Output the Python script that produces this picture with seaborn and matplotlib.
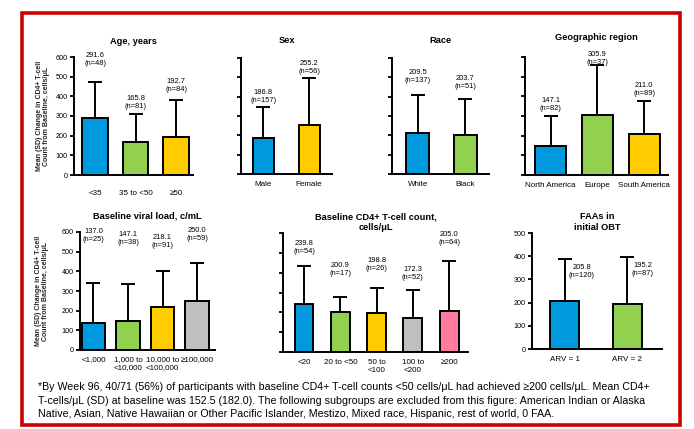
import matplotlib
matplotlib.use("Agg")
import matplotlib.pyplot as plt
from matplotlib.patches import Rectangle
import numpy as np
import pandas as pd
import seaborn as sns

# ---- data: mean (SD) change in CD4+ T-cell count from baseline, cells/μL ----
age_groups = ["<35", "35 to <50", "≥50"]
age_mean = [291.6, 165.8, 192.7]
age_sd = [181, 144, 188]
age_n = [48, 81, 84]

sex_groups = ["Male", "Female"]
sex_mean = [186.8, 255.2]
sex_sd = [160, 242]
sex_n = [157, 56]

race_groups = ["White", "Black"]
race_mean = [209.5, 203.7]
race_sd = [199, 184]
race_n = [137, 51]

region_groups = ["North America", "Europe", "South America"]
region_mean = [147.1, 305.9, 211.0]
region_sd = [153, 253, 165]
region_n = [82, 37, 89]

vl_groups = ["<1,000", "1,000 to\n<10,000", "10,000 to\n<100,000", "≥100,000"]
vl_mean = [137.0, 147.1, 218.1, 250.0]
vl_sd = [204, 189, 184, 192]
vl_n = [25, 38, 91, 59]

cd4_groups = ["<20", "20 to <50", "50 to\n<100", "100 to\n<200", "≥200"]
cd4_mean = [239.8, 200.9, 198.8, 172.3, 205.0]
cd4_sd = [194, 76, 124, 141, 254]
cd4_n = [54, 17, 26, 52, 64]

faa_groups = ["ARV = 1", "ARV = 2"]
faa_mean = [205.8, 195.2]
faa_sd = [182, 201]
faa_n = [120, 87]

ylabel_text = "Mean (SD) Change in CD4+ T-cell\nCount from Baseline, cells/μL"
footnote = (
    "*By Week 96, 40/71 (56%) of participants with baseline CD4+ T-cell counts <50 cells/μL "
    "had achieved ≥200 cells/μL. Mean CD4+\n"
    "T-cells/μL (SD) at baseline was 152.5 (182.0). The following subgroups are excluded "
    "from this figure: American Indian or Alaska\n"
    "Native, Asian, Native Hawaiian or Other Pacific Islander, Mestizo, Mixed race, "
    "Hispanic, rest of world, 0 FAA."
)

# ---- styling ----
BLUE, GREEN, YELLOW, GREY, PINK = "#0099DD", "#92D050", "#FFCC00", "#BFBFBF", "#FF7CA0"

sns.set_style("ticks")
plt.rcParams["font.family"] = ["Liberation Sans", "DejaVu Sans"]
plt.rcParams["text.color"] = "black"

W, H = 694, 429
fig = plt.figure(figsize=(W / 100, H / 100), dpi=100)


def box(left, top, right, bottom):
    """Pixel box -> figure-fraction rect."""
    return [left / W, 1 - bottom / H, (right - left) / W, (bottom - top) / H]


def draw_panel(rect, cats, means, sds, ns, colors, title, xlim, width,
               ymax=600, show_yticklabels=False, title_pad=9, xpad=5,
               label_rise=None, side_labels=False, ylabel=False, ylabel_x=-0.2):
    ax = fig.add_axes(box(*rect))
    df = pd.DataFrame({"group": cats, "mean": means})
    sns.barplot(data=df, x="group", y="mean", hue="group", order=cats,
                hue_order=cats, palette=colors, legend=False, saturation=1,
                width=width, edgecolor="black", linewidth=1.4, errorbar=None,
                ax=ax)
    xs = np.arange(len(cats))
    ax.errorbar(xs, means, yerr=[np.zeros(len(sds)), sds], fmt="none",
                ecolor="black", elinewidth=1.4, capsize=5, capthick=1.4,
                zorder=3)

    for i, (m, s, n) in enumerate(zip(means, sds, ns)):
        txt = f"{m:.1f}\n(n={n})"
        if side_labels:
            ax.annotate(txt, (i, m + s), xytext=(3, -3.5),
                        textcoords="offset points", ha="left", va="top",
                        multialignment="center", fontsize=5.4,
                        linespacing=1.2, annotation_clip=False)
        else:
            rise = (label_rise[i] - 4) * 0.72
            ax.annotate(txt, (i, m + s), xytext=(0, rise),
                        textcoords="offset points", ha="center", va="bottom",
                        multialignment="center", fontsize=5.4,
                        linespacing=1.2, annotation_clip=False)

    ax.set_xlim(*xlim)
    ax.set_ylim(0, ymax)
    ax.set_yticks(np.arange(0, ymax + 1, 100))
    if not show_yticklabels:
        ax.set_yticklabels([])
    ax.set_xlabel("")
    ax.set_ylabel("")
    sns.despine(ax=ax)
    for side in ("left", "bottom"):
        ax.spines[side].set_linewidth(1.4)
        ax.spines[side].set_color("black")
    ax.tick_params(axis="y", length=3, width=1.3, labelsize=5.2, pad=1.5,
                   colors="black")
    ax.tick_params(axis="x", length=0, labelsize=5.8, pad=xpad,
                   colors="black")
    ax.set_title(title, fontsize=6.7, fontweight="bold", pad=title_pad,
                 linespacing=1.25)
    if ylabel:
        ax.set_ylabel(ylabel_text, fontsize=5, fontweight="bold",
                      linespacing=0.95)
        ax.yaxis.set_label_coords(ylabel_x, 0.5)
    return ax


# top row
draw_panel((74, 57, 193, 175), age_groups, age_mean, age_sd, age_n,
           [BLUE, GREEN, YELLOW], "Age, years", (-0.52, 2.42), 0.64,
           show_yticklabels=True, title_pad=9, xpad=10.5,
           label_rise=[19, 8, 11], ylabel=True, ylabel_x=-0.2)
draw_panel((241, 58, 332, 174), sex_groups, sex_mean, sex_sd, sex_n,
           [BLUE, YELLOW], "Sex", (-0.49, 1.5), 0.46, title_pad=10.5,
           xpad=5, label_rise=[7, 7])
draw_panel((392, 58, 489, 174), race_groups, race_mean, race_sd, race_n,
           [BLUE, GREEN], "Race", (-0.54, 1.5), 0.48, title_pad=10.5,
           xpad=5, label_rise=[15, 13])
draw_panel((525, 57, 668, 175), region_groups, region_mean, region_sd,
           region_n, [BLUE, GREEN, YELLOW], "Geographic region",
           (-0.55, 2.51), 0.66, title_pad=12, xpad=5,
           label_rise=[8, 3, 8])

# bottom row
draw_panel((80, 232, 215, 350), vl_groups, vl_mean, vl_sd, vl_n,
           [BLUE, GREEN, YELLOW, GREY], "Baseline viral load, c/mL",
           (-0.39, 3.52), 0.69, show_yticklabels=True, title_pad=9.8,
           xpad=4, label_rise=[44, 42, 26, 25], ylabel=True, ylabel_x=-0.23)
draw_panel((283, 233, 468, 352), cd4_groups, cd4_mean, cd4_sd, cd4_n,
           [BLUE, GREEN, YELLOW, GREY, PINK],
           "Baseline CD4+ T-cell count,\ncells/μL", (-0.58, 4.52), 0.52,
           title_pad=2, xpad=5, label_rise=[15, 24, 20, 13, 19])
draw_panel((532, 233, 662, 349), faa_groups, faa_mean, faa_sd, faa_n,
           [BLUE, GREEN], "FAAs in\ninitial OBT", (-0.52, 1.55), 0.46,
           ymax=500, show_yticklabels=True, title_pad=2, xpad=5,
           side_labels=True)

# footnote and red frame
fig.text(38 / W, 1 - 382 / H, footnote, ha="left", va="top", fontsize=7.7,
         linespacing=1.45)
fig.add_artist(Rectangle((22 / W, 1 - 425 / H), 658 / W, 412 / H,
                         transform=fig.transFigure, fill=False,
                         edgecolor="#CC0000", linewidth=2.6))

fig.savefig("out.png", dpi=100)
